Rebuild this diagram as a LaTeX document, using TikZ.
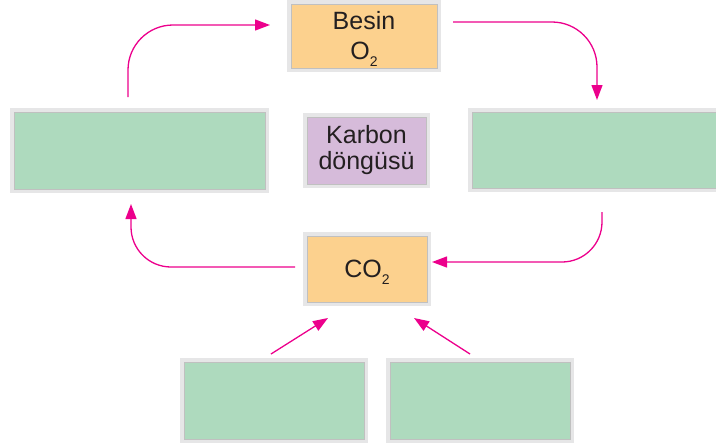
\documentclass[tikz,border=0pt]{standalone}
\usepackage{fontspec}
\setmainfont{Liberation Sans}
\usetikzlibrary{arrows.meta}

\definecolor{boxorange}{RGB}{252,209,142}
\definecolor{boxgreen}{RGB}{174,218,190}
\definecolor{boxpurple}{RGB}{214,187,218}
\definecolor{rimouter}{RGB}{230,230,231}
\definecolor{riminner}{RGB}{192,192,192}
\definecolor{cyclepink}{RGB}{236,0,140}
\definecolor{textdark}{RGB}{35,31,32}

% lowered subscript that does not change the line depth
\newcommand{\sub}[1]{\raisebox{-7pt}[0pt][0pt]{\fontsize{14}{14}\selectfont #1}}

\tikzset{
  cell/.style={rectangle, outer sep=0pt, inner sep=0pt, draw=riminner, line width=0.8pt,
    preaction={draw=rimouter, line width=7.5pt},
    text=textdark, align=center},
  orangecell/.style={cell, fill=boxorange},
  greencell/.style={cell, fill=boxgreen},
  purplecell/.style={cell, fill=boxpurple},
  flow/.style={draw=cyclepink, line width=1.3pt,
    -{Triangle[length=15pt, width=11pt]}},
}

\begin{document}
\begin{tikzpicture}[x=1pt, y=-1pt]
  \useasboundingbox (0,0) rectangle (716,445);

  % compounds
  \node[orangecell, minimum width=146pt, minimum height=64pt,
        font=\fontsize{25}{30}\selectfont] (besin) at (364,36)
    {Besin\\O\sub{2}};
  \node[purplecell, minimum width=119pt, minimum height=67pt,
        font=\fontsize{25}{26}\selectfont] (karbon) at (366.5,150.5)
    {Karbon\\döngüsü};
  \node[orangecell, minimum width=120pt, minimum height=66pt,
        font=\fontsize{25}{30}\selectfont] (co2) at (367,269)
    {CO\sub{2}};

  % empty process boxes
  \node[greencell, minimum width=251pt, minimum height=77pt] (lg) at (139.5,150.5) {};
  \node[greencell, minimum width=248pt, minimum height=76pt] (rg) at (596,150) {};
  \node[greencell, minimum width=180pt, minimum height=77pt] (bl) at (274,400.5) {};
  \node[greencell, minimum width=180pt, minimum height=77pt] (br) at (480,400.5) {};

  % cycle connectors
  \draw[flow, rounded corners=45pt]
    ([xshift=-11.5pt, yshift=15pt]lg.north) |- ([xshift=-21pt, yshift=11pt]besin.west);
  \draw[flow, rounded corners=45pt]
    ([xshift=16pt, yshift=14pt]besin.east) -| ([xshift=1pt, yshift=12pt]rg.north);
  \draw[flow, rounded corners=40pt]
    ([xshift=6pt, yshift=-24pt]rg.south) |- ([xshift=5pt, yshift=7pt]co2.east);
  \draw[flow, rounded corners=40pt]
    ([xshift=-12pt, yshift=2pt]co2.west) -| ([xshift=-8.5pt, yshift=-15pt]lg.south);
  \draw[flow] ([xshift=-3pt, yshift=8pt]bl.north) -- ([xshift=-39pt, yshift=-16pt]co2.south);
  \draw[flow] ([xshift=-10pt, yshift=8pt]br.north) -- ([xshift=47pt, yshift=-16pt]co2.south);
\end{tikzpicture}
\end{document}
